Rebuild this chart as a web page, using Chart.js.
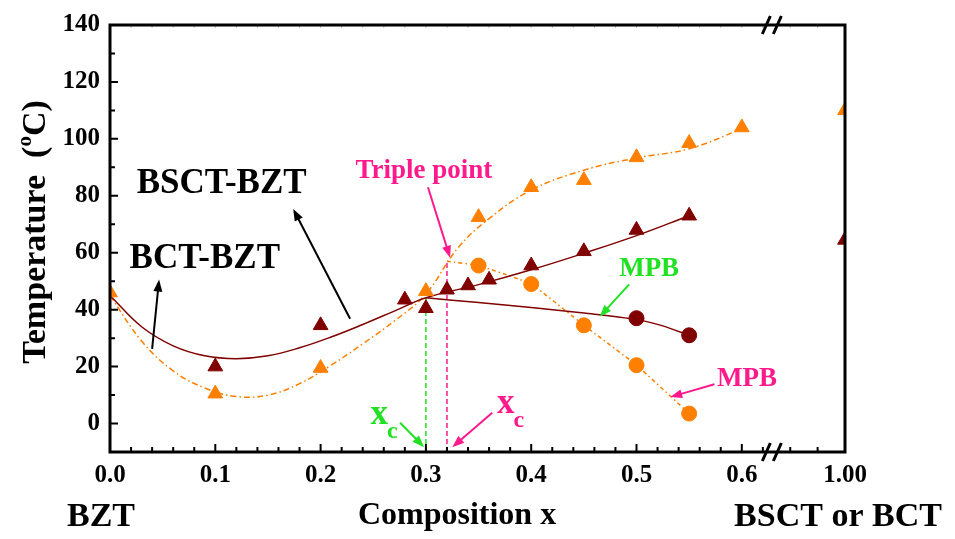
<!DOCTYPE html>
<html>
<head>
<meta charset="utf-8">
<script src="https://cdn.jsdelivr.net/npm/chart.js@4.4.1/dist/chart.umd.min.js"></script>
<style>
  html, body { margin: 0; padding: 0; background: #fff; }
  #wrap { width: 955px; height: 539px; }
</style>
</head>
<body>
<div id="wrap"><canvas id="c"></canvas></div>
<script>
const FONT = "'Liberation Serif', 'Times New Roman', serif";
const DARK = '#800000';
const ORANGE = '#ff8000';
const GREEN = '#22e022';
const PINK = '#ff1a8c';

// x axis has a break: 0..0.63 is linear, then it jumps to the end member x = 1.00
const X_BREAK = 0.629;
const X_END = 0.698;
const toAxis = (v) => v <= X_BREAK ? v : X_END - (1 - v) * 1.3;

// measured points
const triDarkX = [0.1, 0.2, 0.28, 0.3, 0.32, 0.34, 0.36, 0.4, 0.45, 0.5, 0.55, 1.0];
const triDarkY = [20, 34.5, 43.5, 40.5, 47, 48.5, 50.5, 55.5, 60.5, 68, 73, 64.5];
const triOrangeX = [0, 0.1, 0.2, 0.3, 0.35, 0.4, 0.45, 0.5, 0.55, 0.6, 1.0];
const triOrangeY = [46, 10.5, 19.5, 46.5, 72.5, 83, 85.5, 93.5, 98.5, 104, 110];
const dotOrangeX = [0.35, 0.4, 0.45, 0.5, 0.55];
const dotOrangeY = [55.5, 49, 34.5, 20.5, 3.5];
const dotDarkX = [0.5, 0.55];
const dotDarkY = [37, 31];

// guide curves
const fitDarkX = [0, 0.03, 0.06, 0.09, 0.12, 0.15, 0.18, 0.21, 0.24, 0.27, 0.3, 0.35, 0.4, 0.45, 0.5, 0.55];
const fitDarkY = [45, 34, 27.3, 23.8, 22.8, 23.8, 26.6, 30.4, 34.8, 39.5, 44.2, 48.8, 54, 59.8, 66, 73];
const mpbDarkX = [0.3, 0.35, 0.4, 0.45, 0.5, 0.525, 0.55];
const mpbDarkY = [44.2, 42.5, 40.8, 38.8, 36.5, 34.3, 31];
const fitOrangeX = [0, 0.03, 0.06, 0.09, 0.12, 0.15, 0.18, 0.21, 0.24, 0.27, 0.3, 0.33, 0.36, 0.4, 0.45, 0.5, 0.55, 0.6];
const fitOrangeY = [45, 29, 18.5, 12.5, 9.5, 10, 14, 20.5, 28, 36, 45.5, 61.5, 72, 82, 89, 93.3, 96.5, 103.5];
const mpbOrangeX = [0.32, 0.35, 0.4, 0.45, 0.5, 0.55];
const mpbOrangeY = [57, 55.5, 49, 34.5, 20.5, 3.5];

// ticks
const xMajor = [0, 0.1, 0.2, 0.3, 0.4, 0.5, 0.6, 1.0];
const xLabels = ['0.0', '0.1', '0.2', '0.3', '0.4', '0.5', '0.6', '1.00'];
const xMinor = [0.02, 0.04, 0.06, 0.08, 0.12, 0.14, 0.16, 0.18, 0.22, 0.24, 0.26, 0.28,
  0.32, 0.34, 0.36, 0.38, 0.42, 0.44, 0.46, 0.48, 0.52, 0.54, 0.56, 0.58, 0.62, 0.96, 0.98];
const yMajor = [0, 20, 40, 60, 80, 100, 120, 140];
const yMinor = [10, 30, 50, 70, 90, 110, 130];

const pts = (xs, ys) => xs.map((v, i) => ({ x: toAxis(v), y: ys[i] }));

const marker = (label, xs, ys, color, style) => ({
  label, data: pts(xs, ys), showLine: false, pointStyle: style,
  pointRadius: style === 'triangle' ? 8.5 : 7.5, pointBackgroundColor: color,
  pointBorderColor: color, pointBorderWidth: 1, clip: 0
});
const curve = (label, xs, ys, color, dash, tension) => ({
  label, data: pts(xs, ys), showLine: true, pointRadius: 0, borderColor: color,
  borderWidth: 1.5, borderDash: dash, tension: tension, clip: 0
});
const guide = (label, xv, top, color) => ({
  label, data: [{ x: xv, y: -10 }, { x: xv, y: top }], showLine: true, pointRadius: 0,
  borderColor: color, borderWidth: 1.5, borderDash: [5, 3]
});

// text and arrows, in data units
const notes = [
  { text: 'BSCT-BZT', x: 0.106, y: 84, size: 35, color: '#000' },
  { text: 'BCT-BZT', x: 0.090, y: 57.8, size: 35, color: '#000' },
  { text: 'Triple point', x: 0.298, y: 88.8, size: 27, color: PINK },
  { text: 'MPB', x: 0.512, y: 54.4, size: 27, color: GREEN },
  { text: 'MPB', x: 0.605, y: 15.5, size: 27, color: PINK }
];
const arrows = [
  { from: [0.228, 36.8], to: [0.174, 75.4], color: '#000' },
  { from: [0.040, 26.2], to: [0.0466, 50.6], color: '#000' },
  { from: [0.302, 83], to: [0.323, 58.2], color: PINK },
  { from: [0.493, 48.9], to: [0.465, 37.5], color: GREEN },
  { from: [0.574, 13.8], to: [0.532, 9.3], color: PINK },
  { from: [0.2755, 0.3], to: [0.2983, -8.3], color: GREEN },
  { from: [0.363, 3.8], to: [0.325, -8.3], color: PINK }
];
const subs = [
  { x: 0.2475, y: -0.3, color: GREEN },
  { x: 0.3676, y: 3.8, color: PINK }
];

function drawArrow(ctx, x1, y1, x2, y2, color) {
  const ang = Math.atan2(y2 - y1, x2 - x1);
  const len = 12, half = 4.5;
  ctx.strokeStyle = color; ctx.fillStyle = color; ctx.lineWidth = 2;
  ctx.beginPath();
  ctx.moveTo(x1, y1);
  ctx.lineTo(x2 - Math.cos(ang) * len * 0.8, y2 - Math.sin(ang) * len * 0.8);
  ctx.stroke();
  ctx.beginPath();
  ctx.moveTo(x2, y2);
  ctx.lineTo(x2 - Math.cos(ang) * len - Math.sin(ang) * half, y2 - Math.sin(ang) * len + Math.cos(ang) * half);
  ctx.lineTo(x2 - Math.cos(ang) * len + Math.sin(ang) * half, y2 - Math.sin(ang) * len - Math.cos(ang) * half);
  ctx.closePath();
  ctx.fill();
}

const overlay = {
  id: 'overlay',
  afterDraw(chart) {
    const { ctx, chartArea: a, scales } = chart;
    const X = (v) => scales.x.getPixelForValue(toAxis(v));
    const Y = (v) => scales.y.getPixelForValue(v);
    ctx.save();

    // inward ticks
    ctx.strokeStyle = '#000';
    ctx.lineWidth = 2;
    ctx.beginPath();
    xMajor.forEach(v => { ctx.moveTo(X(v), a.bottom); ctx.lineTo(X(v), a.bottom - 8); });
    xMinor.forEach(v => { ctx.moveTo(X(v), a.bottom); ctx.lineTo(X(v), a.bottom - 5); });
    yMajor.forEach(v => { ctx.moveTo(a.left, Y(v)); ctx.lineTo(a.left + 8, Y(v)); });
    yMinor.forEach(v => { ctx.moveTo(a.left, Y(v)); ctx.lineTo(a.left + 5, Y(v)); });
    ctx.stroke();
    ctx.strokeStyle = '#bbb';
    ctx.lineWidth = 1;
    ctx.beginPath();
    xMajor.concat(xMinor).forEach(v => { ctx.moveTo(X(v), a.top); ctx.lineTo(X(v), a.top + 3); });
    ctx.stroke();

    // frame
    ctx.strokeStyle = '#000';
    ctx.lineWidth = 3;
    ctx.strokeRect(a.left, a.top, a.right - a.left, a.bottom - a.top);

    // axis break marks
    const bx = scales.x.getPixelForValue(X_BREAK);
    ctx.lineWidth = 3;
    [a.top, a.bottom].forEach(yy => {
      ctx.beginPath();
      ctx.moveTo(bx - 10, yy + 9); ctx.lineTo(bx - 2, yy - 9);
      ctx.moveTo(bx + 1, yy + 9); ctx.lineTo(bx + 9, yy - 9);
      ctx.stroke();
    });

    // arrows
    arrows.forEach(r => drawArrow(ctx, X(r.from[0]), Y(r.from[1]), X(r.to[0]), Y(r.to[1]), r.color));

    // labels
    ctx.textAlign = 'center';
    ctx.textBaseline = 'middle';
    notes.forEach(n => {
      ctx.font = `bold ${n.size}px ${FONT}`;
      ctx.fillStyle = n.color;
      ctx.fillText(n.text, X(n.x), Y(n.y));
    });
    ctx.textAlign = 'left';
    ctx.textBaseline = 'alphabetic';
    subs.forEach(s => {
      const px = X(s.x), py = Y(s.y);
      ctx.fillStyle = s.color;
      ctx.font = `bold 35px ${FONT}`;
      ctx.fillText('x', px, py);
      const w = ctx.measureText('x').width;
      ctx.font = `bold 24px ${FONT}`;
      ctx.fillText('c', px + w - 1, py + 14);
    });

    // bottom texts
    ctx.fillStyle = '#000';
    ctx.textAlign = 'center';
    ctx.font = `bold 34px ${FONT}`;
    ctx.fillText('BZT', 101, 526);
    ctx.fillText('BSCT or BCT', 838, 526);
    ctx.font = `bold 32px ${FONT}`;
    ctx.fillText('Composition x', 457, 524);

    // y title with superscript o
    ctx.translate(45, 232);
    ctx.rotate(-Math.PI / 2);
    ctx.textAlign = 'left';
    const big = `bold 34px ${FONT}`, small = `bold 21px ${FONT}`;
    ctx.font = big;
    const t1 = 'Temperature  (', t3 = 'C)';
    const w1 = ctx.measureText(t1).width, w3 = ctx.measureText(t3).width;
    ctx.font = small;
    const w2 = ctx.measureText('o').width;
    let sx = -(w1 + w2 + w3) / 2;
    ctx.font = big;
    ctx.fillText(t1, sx, 0);
    ctx.font = small;
    ctx.fillText('o', sx + w1, -14);
    ctx.font = big;
    ctx.fillText(t3, sx + w1 + w2, 0);

    ctx.restore();
  }
};

new Chart(document.getElementById('c'), {
  type: 'scatter',
  data: {
    datasets: [
      marker('orange circles', dotOrangeX, dotOrangeY, ORANGE, 'circle'),
      marker('dark circles', dotDarkX, dotDarkY, DARK, 'circle'),
      marker('orange triangles', triOrangeX, triOrangeY, ORANGE, 'triangle'),
      marker('dark triangles', triDarkX, triDarkY, DARK, 'triangle'),
      curve('dark fit', fitDarkX, fitDarkY, DARK, [], 0.4),
      curve('dark MPB', mpbDarkX, mpbDarkY, DARK, [], 0.3),
      curve('orange fit', fitOrangeX, fitOrangeY, ORANGE, [6, 3, 1.5, 3], 0.4),
      curve('orange MPB', mpbOrangeX, mpbOrangeY, ORANGE, [4, 3, 1.5, 3], 0.1),
      guide('xc green', 0.3, 44, GREEN),
      guide('xc pink', 0.32, 57, PINK)
    ]
  },
  options: {
    responsive: true,
    maintainAspectRatio: false,
    animation: false,
    layout: { padding: { top: 17, right: 110, left: 0, bottom: 0 } },
    plugins: { legend: { display: false }, tooltip: { enabled: false } },
    scales: {
      x: {
        type: 'linear', min: 0, max: X_END,
        afterFit: (s) => { s.height = 87; },
        afterBuildTicks: (s) => { s.ticks = xMajor.map(v => ({ value: toAxis(v) })); },
        grid: { display: false, drawTicks: false },
        border: { display: false },
        ticks: {
          padding: 9, color: '#000', maxRotation: 0, autoSkip: false,
          font: { family: FONT, size: 25, weight: 'bold' },
          callback: (val, i) => xLabels[i]
        }
      },
      y: {
        type: 'linear', min: -10, max: 140,
        afterFit: (s) => { s.width = 110; },
        afterBuildTicks: (s) => { s.ticks = yMajor.map(v => ({ value: v })); },
        grid: { display: false, drawTicks: false },
        border: { display: false },
        ticks: {
          padding: 10, color: '#000',
          font: { family: FONT, size: 25, weight: 'bold' }
        }
      }
    }
  },
  plugins: [overlay]
});
</script>
</body>
</html>
